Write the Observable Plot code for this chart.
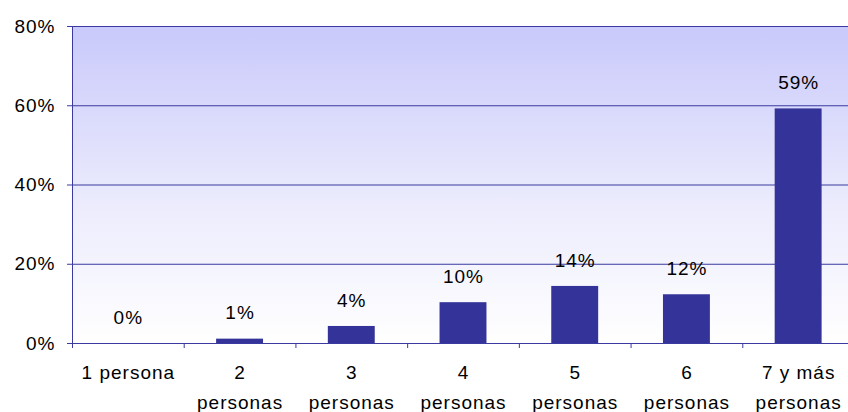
<!DOCTYPE html>
<html>
<head>
<meta charset="utf-8">
<script src="https://cdn.jsdelivr.net/npm/d3@7"></script>
<script src="https://cdn.jsdelivr.net/npm/@observablehq/plot@0.6"></script>
<style>
  html, body { margin: 0; padding: 0; background: #fff; overflow: hidden; }
  #chart svg { max-width: none !important; display: block; }
  #chart svg text { letter-spacing: 1px; }
</style>
</head>
<body>
<div id="chart"></div>
<script>
const categories = ["1 persona", "2\npersonas", "3\npersonas", "4\npersonas", "5\npersonas", "6\npersonas", "7 y más\npersonas"];
const values = [0, 1.1, 4.3, 10.3, 14.4, 12.3, 59.2];
const yTicks = [0, 20, 40, 60, 80];

const data = categories.map((c, i) => ({cat: c, i, value: values[i]}));
const boundaries = d3.range(categories.length + 1);
const centers = categories.map((c, i) => i + 0.5);

const navy = "#333399";
const gridColor = "#3a3aa0";

const defs = () => {
  const svgNS = "http://www.w3.org/2000/svg";
  const d = document.createElementNS(svgNS, "defs");
  d.innerHTML = `<linearGradient id="bgGrad" x1="0" y1="0" x2="0" y2="1">
      <stop offset="0" stop-color="#c9c9fb"/>
      <stop offset="0.55" stop-color="#ebebfd"/>
      <stop offset="1" stop-color="#ffffff"/>
    </linearGradient>`;
  return d;
};

const chart = Plot.plot({
  width: 860,
  height: 412,
  marginLeft: 72,
  marginRight: 6,
  marginTop: 26,
  marginBottom: 69,
  style: {fontFamily: "'Liberation Sans', Arial, sans-serif", fontSize: "19px", color: "#000", background: "#fff"},
  x: {domain: [0, categories.length], axis: null, label: null},
  y: {domain: [0, 80], axis: null, label: null},
  marks: [
    defs,
    Plot.frame({fill: "url(#bgGrad)", stroke: "none"}),
    Plot.gridY(yTicks, {stroke: gridColor, strokeOpacity: 1, strokeWidth: 1}),
    Plot.ruleY([0], {stroke: gridColor, strokeWidth: 1}),
    Plot.ruleX([0], {stroke: gridColor, strokeWidth: 1}),
    Plot.rectY(data, {x1: d => d.i + 0.29, x2: d => d.i + 0.71, y1: 0, y2: "value", fill: navy}),
    Plot.text(data, {x: d => d.i + 0.5, y: "value", text: d => Math.round(d.value) + "%", dy: -26, fill: "#000"}),
    Plot.axisY(yTicks, {tickSize: 5, tickPadding: 12, tickFormat: d => d + "%", stroke: gridColor, fill: "#000", label: null}),
    Plot.axisX(boundaries, {tickSize: 5, tickFormat: () => "", stroke: gridColor, label: null}),
    Plot.axisX(centers, {tickSize: 0, tickPadding: 14, lineHeight: 1.58, tickFormat: d => categories[Math.floor(d)], fill: "#000", label: null})
  ]
});
document.getElementById("chart").appendChild(chart);
</script>
</body>
</html>
